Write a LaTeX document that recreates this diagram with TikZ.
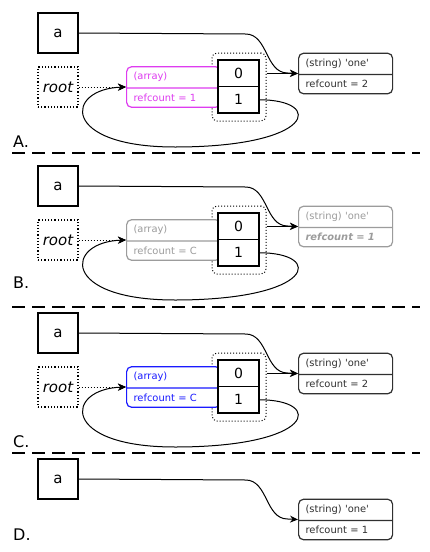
\documentclass[tikz,border=0pt]{standalone}
\usepackage{fontspec}
\setmainfont{DejaVu Sans}
\usetikzlibrary{shapes.multipart,arrows.meta,positioning}
\definecolor{arrmag}{HTML}{DE3CF0}
\definecolor{arrblue}{HTML}{1A1AFF}
\definecolor{faded}{HTML}{9C9C9C}
\definecolor{ink}{HTML}{303030}
\tikzset{
  var/.style={draw,line width=1.2pt,minimum size=40pt,inner sep=0pt,
    font=\fontsize{15}{15}\selectfont},
  rootvar/.style={var,dotted,font=\fontsize{15}{15}\selectfont\itshape},
  zval/.style={rectangle split,rectangle split parts=2,draw,rounded corners=5pt,
    fill=white,line width=1.2pt,text width=80pt,align=left,inner xsep=7pt,
    inner ysep=5.25pt,text height=7pt,text depth=2.5pt,
    font=\fontsize{9.9}{10}\selectfont},
  cell/.style={draw,fill=white,line width=1.6pt,outer sep=0pt,
    minimum width=41pt,minimum height=26.5pt,inner sep=0pt,
    font=\fontsize{14}{14}\selectfont},
  hold/.style={draw,dotted,line width=1pt,rounded corners=5pt,
    minimum width=54pt,minimum height=68pt},
  ptr/.style={line width=1pt,-{Stealth[length=8pt,width=7pt]}},
  rootptr/.style={ptr,dotted},
  sep/.style={line width=2pt,dash pattern=on 13pt off 7pt},
  lbl/.style={anchor=base west,inner sep=0pt,font=\fontsize{16}{16}\selectfont}
}
% a and its string value, shared by all four stages
\newcommand{\strpart}[2]{
  \node[var] (a) at (58,33) {a};
  \node[zval,draw=#1,text=#1,anchor=west] (str) at (298,73.5)
    {(string) \textquotesingle one\textquotesingle\nodepart{two}#2};
  \draw[ptr] (a.east) -- ++(167,1) to[out=0,in=180] ++(42,39) -- (str.west);
}
% root buffer, the array and its two slots
\newcommand{\arrpart}[2]{
  \node[rootvar] (root) at (58,87) {root};
  \node[hold] (hold) at (239,87) {};
  \node[zval,draw=#1,text=#1,anchor=west] (arr) at (126,87)
    {(array)\nodepart{two}refcount = #2};
  \node[cell] (c0) at (238.5,73.25) {0};
  \node[cell,below=0pt of c0] (c1) {1};
  \draw[ptr] (hold.east |- str.west) -- (str.west);
  \draw[rootptr] (root.east) -- (arr.west);
  \draw[ptr] (c1.east) .. controls +(66,0) and (315,147) .. (175,147)
    .. controls (60,147) and (65,89) .. (arr.west);
}

\begin{document}
\begin{tikzpicture}[x=1pt,y=-1pt]
  \useasboundingbox[fill=white] (0,0) rectangle (429,552);

  % A.
  \begin{scope}[name prefix=A-]
    \strpart{ink}{refcount = 2}
    \arrpart{arrmag}{1}
  \end{scope}
  \node[lbl] (labA) at (13,147) {A.};
  \draw[sep] (12,153) -- (420,153);

  % B.
  \begin{scope}[shift={(0,153)},name prefix=B-]
    \strpart{faded}{\bfseries\itshape refcount = 1}
    \arrpart{faded}{C}
  \end{scope}
  \node[lbl] (labB) at (13,288) {B.};
  \draw[sep] (12,307) -- (420,307);

  % C.
  \begin{scope}[shift={(0,300)},name prefix=C-]
    \strpart{ink}{refcount = 2}
    \arrpart{arrblue}{C}
  \end{scope}
  \node[lbl] (labC) at (13,447) {C.};
  \draw[sep] (12,453) -- (420,453);

  % D.
  \begin{scope}[shift={(0,446)},name prefix=D-]
    \strpart{ink}{refcount = 1}
  \end{scope}
  \node[lbl] (labD) at (13,540) {D.};
\end{tikzpicture}
\end{document}
